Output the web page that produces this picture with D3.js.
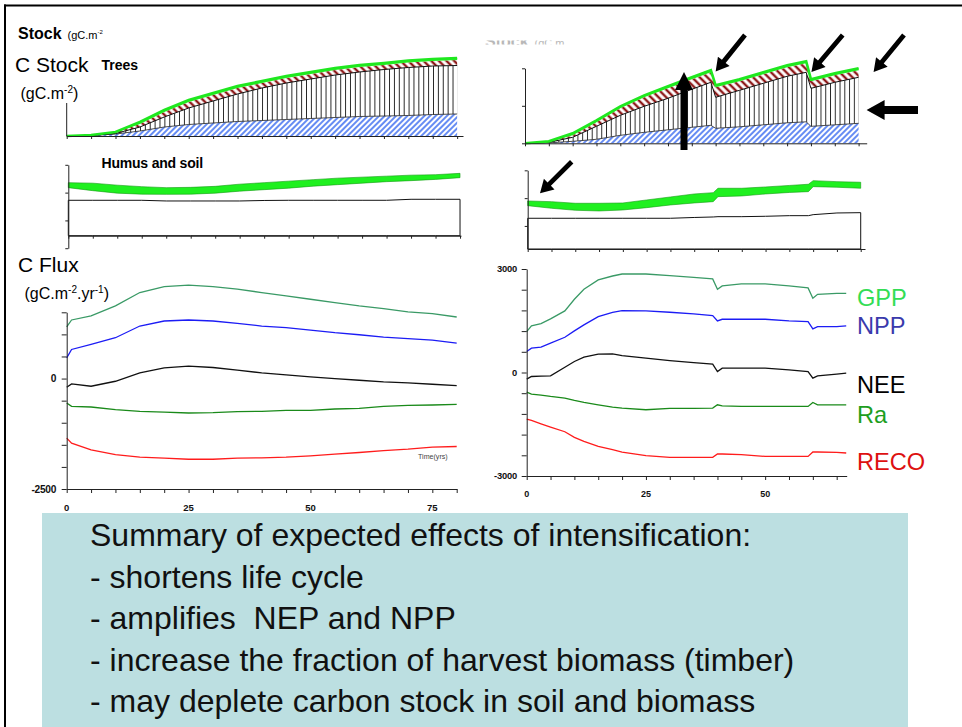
<!DOCTYPE html>
<html>
<head>
<meta charset="utf-8">
<script src="https://cdn.jsdelivr.net/npm/d3@7"></script>
<style>
  body { margin: 0; background: #fff; }
  svg { display: block; }
  text { font-family: "Liberation Sans", Arial, sans-serif; }
</style>
</head>
<body>
<svg id="chart" width="962" height="727"></svg>
<script>
// ---------- Tree carbon stocks (gC.m-2), reference stand (left) ----------
const yearsTreesL = [0,5,10,15,20,25,30,35,40,45,50,55,60,65,70,75,80];
const rootsL    = [0,130,530,1330,2400,3070,3470,3870,4130,4400,4670,4930,5200,5330,5470,5730,5870];
const stemsL    = [0,0,130,1070,2670,4400,5870,7330,8670,9730,10530,11330,11870,12400,12800,12930,12930];
const branchesL = [0,80,270,800,1330,1600,1600,1600,1330,1330,1330,1330,1330,1200,1330,1330,1470];
const leavesL   = [0,50,130,530,530,530,530,530,530,530,530,530,530,530,530,530,530];

// ---------- Tree carbon stocks (gC.m-2), intensive stand with thinnings (right) ----------
const yearsTreesR = [0,5,10,15,20,25,30,35,39,40,45,50,55,59,60,65,70];
const rootsR    = [0,130,530,1070,2130,2930,3600,4270,4800,4000,4400,4930,5470,5730,4530,4930,5330];
const stemsR    = [0,130,1070,3470,5330,6930,8400,10130,11470,8270,9730,11070,12400,13200,10130,11330,12270];
const branchesR = [0,130,530,1070,1870,2400,2670,2670,2670,2670,2400,2400,2400,2400,1870,1870,1870];
const leavesR   = [0,130,530,530,530,530,530,530,530,530,530,530,530,530,530,530,530];

// ---------- Humus and soil stocks (gC.m-2) ----------
const yearsSoilL  = [0,5,10,15,20,25,30,35,40,45,50,55,60,65,70,75,80];
const mineralL    = [12740,12740,12740,12740,12490,12490,12490,12490,12670,12740,12740,12740,12740,12740,13100,13100,13100];
const humusL      = [4540,3460,2560,2200,2380,2450,2810,3530,3890,4360,5080,5620,6160,6700,6700,7160,7780];
const litterL     = [1800,2700,2880,2700,2410,2450,2450,2520,2520,2520,2340,2340,2160,1980,1980,1690,1550];
const soilTicksL  = [-4500,5500,15500,25500];

const yearsSoilR  = [0,5,10,15,20,25,30,35,39,40,45,50,55,59,60,65,70];
const mineralR    = [11050,11050,11050,11050,11050,11050,11050,11340,11520,11630,11630,11770,11990,11990,12350,12960,13070];
const humusR      = [4540,3600,2880,2630,2990,3820,4790,5220,5510,7200,7450,8030,8350,8640,10080,9250,8780];
const litterR     = [1690,2380,2520,2770,2520,2770,2880,3240,3240,3020,2770,2520,2520,2660,2160,2020,2160];
const soilTicksR  = [8300,18300,28300];

// ---------- Carbon fluxes (gC.m-2.yr-1) ----------
const yearsFluxL = [0,1,5,10,15,20,25,30,35,40,45,50,55,60,65,70,75,80];
const gppL  = [1170,1326,1417,1644,1947,2083,2114,2083,2023,1947,1871,1795,1720,1644,1583,1508,1470,1394];
const nppL  = [470,659,773,924,1189,1303,1326,1303,1250,1189,1152,1098,1038,992,939,902,871,803];
const neeL  = [-197,-121,-174,-61,129,242,280,250,189,129,83,38,0,-38,-76,-98,-129,-159];
const raL   = [-553,-629,-644,-705,-742,-758,-780,-773,-750,-742,-720,-720,-689,-674,-629,-606,-598,-583];
const recoL = [-1348,-1462,-1614,-1720,-1780,-1803,-1826,-1826,-1803,-1795,-1780,-1750,-1712,-1674,-1629,-1598,-1553,-1538];

const yearsFluxR = [0,1,3,5,8,10,12,15,18,20,25,30,35,39,40,41,45,50,55,59,60,61,65,67];
const gppR  = [1186,1350,1418,1553,1785,2122,2412,2682,2797,2855,2855,2807,2759,2711,2412,2508,2566,2566,2508,2450,2151,2267,2296,2296];
const nppR  = [608,704,733,849,1022,1206,1379,1620,1746,1794,1785,1746,1698,1650,1495,1543,1543,1543,1495,1476,1264,1331,1331,1350];
const neeR  = [-193,-116,-106,-96,154,318,444,530,540,492,415,347,289,241,29,125,125,125,77,29,-164,-96,-48,-19];
const raR   = [-569,-627,-656,-695,-743,-810,-868,-936,-1003,-1032,-1080,-1042,-1042,-1032,-936,-965,-984,-984,-984,-984,-868,-936,-936,-936];
const recoR = [-1350,-1389,-1486,-1582,-1717,-1881,-1997,-2141,-2238,-2305,-2412,-2460,-2460,-2460,-2363,-2363,-2383,-2431,-2431,-2431,-2305,-2305,-2315,-2334];

const fluxTicksL  = [-2500,-2000,-1500,-1000,-500,0,500,1000,1500];
const fluxLabelsL = [-2500,0];
const fluxTicksR  = [-3000,-2400,-1800,-1200,-600,0,600,1200,1800,2400,3000];
const fluxLabelsR = [-3000,0,3000];
const fluxNames   = ["GPP","NPP","NEE","Ra","RECO"];
const timeTicksL  = [0,5,10,15,20,25,30,35,40,45,50,55,60,65,70,75,80];
const timeTicksR  = [0,5,10,15,20,25,30,35,40,45,50,55,60,65,70];
const timeTicksFR = [0,5,10,15,20,25,30,35,40,45,50,55,60,65];
const timeLabels  = [0,25,50,75];

const summaryLines = [
  "Summary of expected effects of intensification:",
  "- shortens life cycle",
  "- amplifies  NEP and NPP",
  "- increase the fraction of harvest biomass (timber)",
  "- may deplete carbon stock in soil and biomass"
];

// ---------- drawing ----------
const svg = d3.select("#chart");
const defs = svg.append("defs");
const AX = "#222";

function hatch(id, color, size, width, angle) {
  const p = defs.append("pattern").attr("id", id)
    .attr("patternUnits", "userSpaceOnUse")
    .attr("width", size).attr("height", size)
    .attr("patternTransform", `rotate(${angle})`);
  p.append("rect").attr("width", size).attr("height", size).attr("fill", "#fff");
  p.append("line").attr("x1", size / 2).attr("x2", size / 2).attr("y1", 0).attr("y2", size)
    .attr("stroke", color).attr("stroke-width", width);
}
function columns(id, step, x0) {
  const p = defs.append("pattern").attr("id", id)
    .attr("patternUnits", "userSpaceOnUse")
    .attr("x", x0).attr("width", step).attr("height", 10);
  p.append("rect").attr("width", step).attr("height", 10).attr("fill", "#fff");
  p.append("line").attr("x1", 0.5).attr("x2", 0.5).attr("y1", 0).attr("y2", 10)
    .attr("stroke", "#111").attr("stroke-width", 0.9);
}
hatch("blueHatch", "#3f6ff0", 4, 1.6, 45);
hatch("brownHatch", "#8e1a1a", 5.4, 2.4, -45);
columns("colsL", 4.884, 66.7);
columns("colsR", 4.766, 525);

// slide frame
svg.append("line").attr("x1", 4).attr("x2", 962).attr("y1", 5.5).attr("y2", 5.5)
  .attr("stroke", "#000").attr("stroke-width", 2);
svg.append("line").attr("x1", 5).attr("x2", 5).attr("y1", 4.5).attr("y2", 727)
  .attr("stroke", "#000").attr("stroke-width", 2);

// ---- tree stock panels ----
function treePanel(years, roots, stems, branches, leaves, x, y, colsId) {
  const rows = years.map((t, i) => ({ t, roots: roots[i], stems: stems[i], branches: branches[i], leaves: leaves[i] }));
  const keys = ["roots", "stems", "branches", "leaves"];
  const series = d3.stack().keys(keys)(rows);
  const fills = { roots: "url(#blueHatch)", stems: `url(#${colsId})`, branches: "url(#brownHatch)", leaves: "#22ee22" };
  const area = d3.area().x(d => x(d.data.t)).y0(d => y(d[0])).y1(d => y(d[1]));
  const top = d3.line().x(d => x(d.data.t)).y(d => y(d[1]));
  const g = svg.append("g");
  series.forEach(s => {
    g.append("path").attr("d", area(s)).attr("fill", fills[s.key]);
  });
  g.append("path").attr("d", top(series[0])).attr("fill", "none").attr("stroke", "#222").attr("stroke-width", 0.8);
  g.append("path").attr("d", top(series[1])).attr("fill", "none").attr("stroke", "#111").attr("stroke-width", 1);
  g.append("path").attr("d", top(series[3])).attr("fill", "none").attr("stroke", "#1fe81f").attr("stroke-width", 2.6);
  return g;
}

const xTL = d3.scaleLinear().domain([0, 81.2]).range([66.7, 463]);
const yTL = d3.scaleLinear().domain([0, 20000]).range([136, 61]);
const xTR = d3.scaleLinear().domain([0, 71.7]).range([525, 866.7]);
const yTR = d3.scaleLinear().domain([0, 20000]).range([143.3, 68.3]);

treePanel(yearsTreesL, rootsL, stemsL, branchesL, leavesL, xTL, yTL, "colsL");
treePanel(yearsTreesR, rootsR, stemsR, branchesR, leavesR, xTR, yTR, "colsR");

function xAxis(scale, yPos, ticks, size) {
  const g = svg.append("g").attr("transform", `translate(0,${yPos})`)
    .call(d3.axisBottom(scale).tickValues(ticks).tickSize(size).tickSizeOuter(0).tickFormat(""));
  g.select(".domain").attr("stroke", AX);
  g.selectAll(".tick line").attr("stroke", AX);
  return g;
}
function yAxis(scale, xPos, ticks, size) {
  const g = svg.append("g").attr("transform", `translate(${xPos},0)`)
    .call(d3.axisLeft(scale).tickValues(ticks).tickSize(size).tickSizeOuter(0).tickFormat(""));
  g.select(".domain").attr("stroke", AX);
  g.selectAll(".tick line").attr("stroke", AX);
  return g;
}

xAxis(xTL, yTL(0), timeTicksL, 3);
svg.append("line").attr("x1", xTL(0)).attr("x2", xTL(0)).attr("y1", yTL(0)).attr("y2", yTL(8800))
  .attr("stroke", AX);
xAxis(xTR, yTR(0), timeTicksR, 3);
yAxis(d3.scaleLinear().domain([0, 20000]).range(yTR.range()), xTR(0), [0, 10000, 20000], 3);

// ---- humus and soil panels ----
function soilPanel(years, mineral, humus, litter, x, y) {
  const rows = years.map((t, i) => ({ t, mineral: mineral[i], humus: humus[i], litter: litter[i] }));
  const series = d3.stack().keys(["mineral", "humus", "litter"])(rows);
  const area = d3.area().x(d => x(d.data.t)).y0(d => y(d[0])).y1(d => y(d[1]));
  const g = svg.append("g");
  g.append("path").attr("d", area(series[0])).attr("fill", "#fff").attr("stroke", "#111").attr("stroke-width", 1);
  g.append("path").attr("d", area(series[2])).attr("fill", "#1ff01f").attr("stroke", "#129a12").attr("stroke-width", 0.6);
}
const xSL = d3.scaleLinear().domain([0, 80.2]).range([68.3, 461]);
const ySL = d3.scaleLinear().domain([0, 10000]).range([235.7, 207.9]);
const xSR = d3.scaleLinear().domain([0, 70.9]).range([527.7, 865]);
const ySR = d3.scaleLinear().domain([0, 10000]).range([249, 221.2]);

soilPanel(yearsSoilL, mineralL, humusL, litterL, xSL, ySL);
soilPanel(yearsSoilR, mineralR, humusR, litterR, xSR, ySR);
xAxis(xSL, ySL(0), timeTicksL, 3);
yAxis(d3.scaleLinear().domain([soilTicksL[0], soilTicksL[3]]).range([ySL(soilTicksL[0]), ySL(soilTicksL[3])]), xSL(0), soilTicksL, 3);
xAxis(xSR, ySR(0), timeTicksR, 3);
yAxis(d3.scaleLinear().domain([0, soilTicksR[2]]).range([ySR(0), ySR(soilTicksR[2])]), xSR(0), soilTicksR, 3);

// ---- flux panels ----
const fluxColors = { GPP: "#3a9a66", NPP: "#1c1cf5", NEE: "#111", Ra: "#1a8a1a", RECO: "#ff1c1c" };
const labelColors = { GPP: "#33dd55", NPP: "#3a3aac", NEE: "#000", Ra: "#1e9e1e", RECO: "#dd1111" };

function fluxPanel(years, sets, x, y) {
  const line = d3.line().x((d, i) => x(years[i])).y(d => y(d));
  fluxNames.forEach((n, k) => {
    svg.append("path").attr("d", line(sets[k])).attr("fill", "none")
      .attr("stroke", fluxColors[n]).attr("stroke-width", 1.3);
  });
}
const xFL = d3.scaleLinear().domain([0, 80]).range([66.7, 456.7]);
const yFL = d3.scaleLinear().domain([-2500, 1500]).range([489, 312.3]);
const xFR = d3.scaleLinear().domain([0, 67.1]).range([526.7, 846.7]);
const yFR = d3.scaleLinear().domain([-3000, 3000]).range([476, 269]);

fluxPanel(yearsFluxL, [gppL, nppL, neeL, raL, recoL], xFL, yFL);
fluxPanel(yearsFluxR, [gppR, nppR, neeR, raR, recoR], xFR, yFR);

xAxis(xFL, yFL(-2500), timeTicksL, 4);
yAxis(yFL, xFL(0), fluxTicksL, 5);
xAxis(xFR, yFR(-3000), timeTicksFR, 4);
yAxis(yFR, xFR(0), fluxTicksR, 5);

const boldTick = { "font-weight": "bold", "fill": "#111" };
function applyAttrs(sel, o) { Object.entries(o).forEach(([k, v]) => sel.attr(k, v)); return sel; }

fluxLabelsL.forEach(v => applyAttrs(svg.append("text"), boldTick)
  .attr("x", 56).attr("y", yFL(v) + 3.6).attr("text-anchor", "end")
  .attr("font-size", 10.2).attr("letter-spacing", -0.3).text(v));
fluxLabelsR.forEach(v => applyAttrs(svg.append("text"), boldTick)
  .attr("x", 517).attr("y", yFR(v) + 3.3).attr("text-anchor", "end")
  .attr("font-size", 9.4).attr("letter-spacing", -0.2).text(v));
timeLabels.forEach(v => applyAttrs(svg.append("text"), boldTick)
  .attr("x", xFL(v)).attr("y", 510.5).attr("text-anchor", "middle")
  .attr("font-size", 9.5).text(v));
timeLabels.filter(v => v <= 65).forEach(v => applyAttrs(svg.append("text"), boldTick)
  .attr("x", xFR(v)).attr("y", 496.5).attr("text-anchor", "middle")
  .attr("font-size", 9).text(v));

svg.append("text").attr("x", 418).attr("y", 459.3).attr("font-size", 7.1).attr("fill", "#444").text("Time(yrs)");

// series names beside the right flux panel
const nameY = { GPP: 306, NPP: 334, NEE: 392.7, Ra: 422.7, RECO: 470 };
fluxNames.forEach(n => svg.append("text").attr("x", 857).attr("y", nameY[n])
  .attr("font-size", 23.6).attr("fill", labelColors[n]).text(n));

// ---- titles ----
const t1 = svg.append("text").attr("x", 18).attr("y", 39.3).attr("fill", "#000");
t1.append("tspan").attr("font-weight", "bold").attr("font-size", 16).text("Stock");
t1.append("tspan").attr("dx", 6).attr("font-size", 11).text("(gC.m");
t1.append("tspan").attr("font-size", 6).attr("dy", -5).text("-2");

// faint duplicate heading above the right panel, mostly hidden
defs.append("clipPath").attr("id", "ghostClip").append("rect")
  .attr("x", 480).attr("y", 40.5).attr("width", 100).attr("height", 4);
const g2 = svg.append("text").attr("x", 485).attr("y", 47).attr("fill", "#b8b8b8")
  .attr("clip-path", "url(#ghostClip)");
g2.append("tspan").attr("font-weight", "bold").attr("font-size", 16).text("Stock");
g2.append("tspan").attr("dx", 6).attr("font-size", 11).text("(gC.m");

svg.append("text").attr("x", 15).attr("y", 71.7).attr("font-size", 21).text("C Stock");
svg.append("text").attr("x", 101.5).attr("y", 70).attr("font-size", 14).attr("font-weight", "bold").text("Trees");
const u1 = svg.append("text").attr("x", 20.5).attr("y", 99).attr("font-size", 16);
u1.append("tspan").text("(gC.m");
u1.append("tspan").attr("font-size", 10).attr("dy", -6).text("-2");
u1.append("tspan").attr("dy", 6).text(")");

svg.append("text").attr("x", 101.5).attr("y", 168.3).attr("font-size", 14).attr("font-weight", "bold")
  .attr("letter-spacing", -0.2).text("Humus and soil");

svg.append("text").attr("x", 18).attr("y", 271.7).attr("font-size", 21).text("C Flux");
const u2 = svg.append("text").attr("x", 24.5).attr("y", 299.3).attr("font-size", 16);
u2.append("tspan").text("(gC.m");
u2.append("tspan").attr("font-size", 10).attr("dy", -6).text("-2");
u2.append("tspan").attr("dy", 6).text(".yr");
u2.append("tspan").attr("font-size", 10).attr("dy", -6).text("-1");
u2.append("tspan").attr("dy", 6).text(")");

// ---- arrows marking thinnings and stock changes ----
function arrow(x1, y1, x2, y2, shaft, head, headLen) {
  const dx = x2 - x1, dy = y2 - y1, L = Math.hypot(dx, dy);
  const ux = dx / L, uy = dy / L, nx = -uy, ny = ux;
  const bx = x2 - ux * headLen, by = y2 - uy * headLen;
  const pts = [
    [x1 + nx * shaft / 2, y1 + ny * shaft / 2],
    [bx + nx * shaft / 2, by + ny * shaft / 2],
    [bx + nx * head / 2, by + ny * head / 2],
    [x2, y2],
    [bx - nx * head / 2, by - ny * head / 2],
    [bx - nx * shaft / 2, by - ny * shaft / 2],
    [x1 - nx * shaft / 2, y1 - ny * shaft / 2]
  ];
  svg.append("path").attr("d", d3.line()(pts) + "Z").attr("fill", "#000");
}
arrow(745, 35, xTR(40), 71.5, 4.8, 15, 13);
arrow(842.7, 35, xTR(60) + 0.5, 72, 4.8, 15, 13);
arrow(904, 35, xTR(70) + 15, 72, 4.8, 15, 13);
arrow(918, 110, xTR(70) + 8, 110, 8, 20, 18);
arrow(684, 150, 684, 72, 7, 18, 18);
arrow(571.7, 161.7, 540, 193.3, 4.8, 15, 13);

// ---- summary box ----
svg.append("rect").attr("x", 42).attr("y", 513).attr("width", 866).attr("height", 214).attr("fill", "#bcdfe1");
summaryLines.forEach((s, i) => svg.append("text")
  .attr("x", 90).attr("y", 546 + i * 41.5).attr("font-size", 32).attr("fill", "#111")
  .style("white-space", "pre").text(s));
</script>
</body>
</html>
